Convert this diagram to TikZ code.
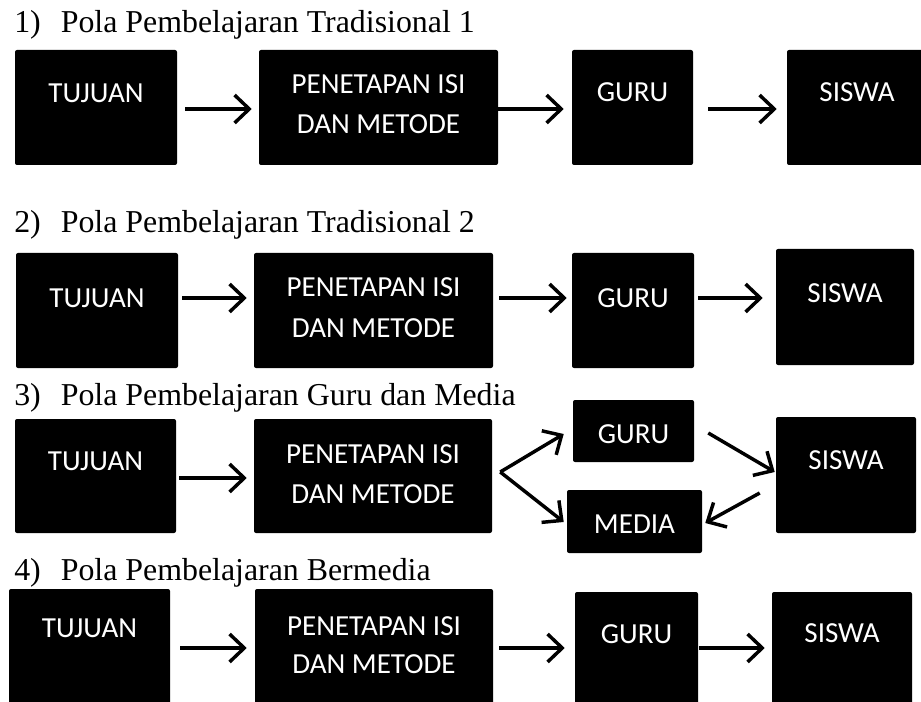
\documentclass[tikz,border=0pt]{standalone}
\usepackage{fontspec}
\setmainfont{Liberation Serif}
\newfontfamily\boxfont{Carlito}
\usetikzlibrary{arrows.meta,fit,calc}
\tikzset{
  box/.style={fill=black, draw=none, rounded corners=1.5pt, inner sep=0pt},
  lbl/.style={anchor=base, text=white, inner sep=0pt, font=\boxfont\fontsize{21.8pt}{26pt}\selectfont},
  ttl/.style={anchor=base west, inner sep=0pt, font=\fontsize{23.9pt}{28pt}\selectfont},
  arr/.style={line width=2.6pt, -{Straight Barb[length=11pt,width=21pt]}}
}
\begin{document}
\begin{tikzpicture}[x=0.75pt,y=-0.75pt]
\useasboundingbox (0,0) rectangle (921,702);
\clip (0,0) rectangle (921,702);
\fill[white] (0,0) rectangle (921,702);

% ---------- Row 1 ----------
\node[ttl] (h1) at (14,33) {1)\hspace{15pt}Pola Pembelajaran Tradisional 1};
\node[box, fit={(15,50) (177,165)}] (t1) {};
\node[box, fit={(259,50) (498,165)}] (p1) {};
\node[box, fit={(572,50) (693,165)}] (g1) {};
\node[box, fit={(787,50) (927,165)}] (s1) {};
\node[lbl] (t1a) at (96,103) {TUJUAN};
\node[lbl] (p1a) at (378.5,94) {PENETAPAN ISI};
\node[lbl] (p1b) at (378.5,134) {DAN METODE};
\node[lbl] (g1a) at (632.5,102) {GURU};
\node[lbl] (s1a) at (857,102) {SISWA};
\draw[arr] ($(t1.east)+(8,1.5)$) -- ($(p1.west)+(-7,1.5)$);
\draw[arr] ($(p1.east)+(0,1.5)$) -- ($(g1.west)+(-8,1.5)$);
\draw[arr] ($(g1.east)+(15,1.5)$) -- ($(s1.west)+(-10,1.5)$);

% ---------- Row 2 ----------
\node[ttl] (h2) at (14,233) {2)\hspace{15pt}Pola Pembelajaran Tradisional 2};
\node[box, fit={(16,253) (178,368)}] (t2) {};
\node[box, fit={(254,253) (493,368)}] (p2) {};
\node[box, fit={(572,253) (694,368)}] (g2) {};
\node[box, fit={(776,249) (914,365)}] (s2) {};
\node[lbl] (t2a) at (97,307) {TUJUAN};
\node[lbl] (p2a) at (373.5,297) {PENETAPAN ISI};
\node[lbl] (p2b) at (373.5,337) {DAN METODE};
\node[lbl] (g2a) at (633,308) {GURU};
\node[lbl] (s2a) at (845,303) {SISWA};
\draw[arr] ($(t2.east)+(4,-12.5)$) -- ($(p2.west)+(-7,-12.5)$);
\draw[arr] ($(p2.east)+(6,-12.5)$) -- ($(g2.west)+(-5,-12.5)$);
\draw[arr] ($(g2.east)+(4,-12.5)$) -- ($(s2.west)+(-13,-9)$);

% ---------- Row 3 ----------
\node[ttl] (h3) at (14,405) {3)\hspace{15pt}Pola Pembelajaran Guru dan Media};
\node[box, fit={(15,419) (176,533)}] (t3) {};
\node[box, fit={(254,419) (492,533)}] (p3) {};
\node[box, fit={(573,400) (694,462)}] (g3) {};
\node[box, fit={(567,490) (702,553)}] (m3) {};
\node[box, fit={(776,417) (916,533)}] (s3) {};
\node[lbl] (t3a) at (95.5,470) {TUJUAN};
\node[lbl] (p3a) at (373,463) {PENETAPAN ISI};
\node[lbl] (p3b) at (373,503) {DAN METODE};
\node[lbl] (g3a) at (633.5,443) {GURU};
\node[lbl] (m3a) at (634.5,533) {MEDIA};
\node[lbl] (s3a) at (846,469) {SISWA};
\draw[arr] ($(t3.east)+(3,2)$) -- ($(p3.west)+(-7,2)$);
\coordinate (fork) at ($(p3.east)+(8,-4)$);
\draw[arr] (fork) -- ($(g3.west)+(-9,3)$);
\draw[arr] (fork) -- ($(m3.west)+(-3,0.5)$);
\draw[arr] ($(g3.east)+(14,2)$) -- ($(s3.west)+(-1,-3)$);
\draw[arr] ($(s3.west)+(-16,18)$) -- ($(m3.east)+(3,1.5)$);

% ---------- Row 4 ----------
\node[ttl] (h4) at (14,580) {4)\hspace{15pt}Pola Pembelajaran Bermedia};
\node[box, fit={(9,589) (170,712)}] (t4) {};
\node[box, fit={(255,589) (493,712)}] (p4) {};
\node[box, fit={(575,592) (698,712)}] (g4) {};
\node[box, fit={(772,592) (912,712)}] (s4) {};
\node[lbl] (t4a) at (89.5,637) {TUJUAN};
\node[lbl] (p4a) at (374,635) {PENETAPAN ISI};
\node[lbl] (p4b) at (374,673) {DAN METODE};
\node[lbl] (g4a) at (636.5,643) {GURU};
\node[lbl] (s4a) at (842,642) {SISWA};
\draw[arr] ($(t4.east)+(10,-2.5)$) -- ($(p4.west)+(-8,-2.5)$);
\draw[arr] ($(p4.east)+(6,-2.5)$) -- ($(g4.west)+(-10,-4)$);
\draw[arr] ($(g4.east)+(1,-4)$) -- ($(s4.west)+(-7,-4)$);
\end{tikzpicture}
\end{document}
